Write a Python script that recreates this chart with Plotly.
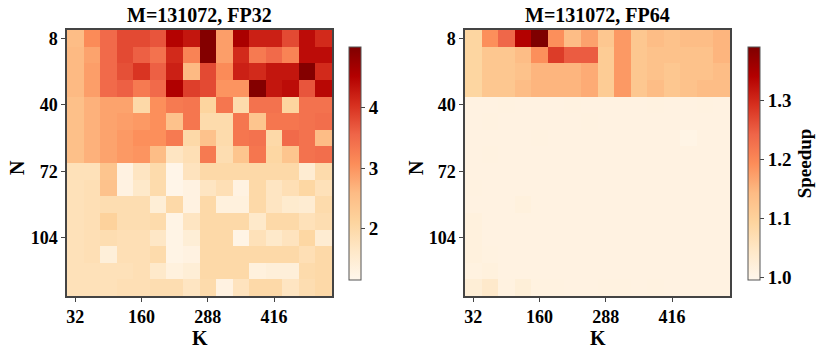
import plotly.graph_objects as go

# K (columns) and N (rows)
k_vals = [32, 64, 96, 128, 160, 192, 224, 256, 288, 320, 352, 384, 416, 448, 480, 512]
n_vals = [8, 16, 24, 32, 40, 48, 56, 64, 72, 80, 88, 96, 104, 112, 120, 128]

# speedup, M=131072, FP32
fp32_speedup = [
    [2.55, 3.10, 3.50, 3.80, 3.80, 3.70, 4.50, 4.30, 4.95, 2.90, 4.60, 4.20, 4.20, 3.80, 4.40, 4.10],
    [2.60, 2.85, 3.50, 3.80, 3.60, 3.40, 4.10, 3.20, 4.95, 2.90, 4.10, 3.30, 3.50, 3.20, 4.40, 4.40],
    [2.60, 2.90, 3.50, 3.75, 4.00, 3.60, 4.20, 2.60, 3.80, 3.10, 4.20, 4.10, 4.30, 4.30, 4.95, 4.10],
    [2.60, 2.90, 3.50, 3.60, 3.30, 3.50, 4.55, 3.90, 3.80, 3.00, 3.00, 4.95, 4.30, 4.40, 3.70, 4.45],
    [2.50, 2.70, 2.85, 2.85, 2.00, 3.05, 3.30, 3.35, 2.10, 3.35, 1.95, 3.40, 3.40, 2.10, 3.40, 3.40],
    [2.50, 2.70, 2.85, 2.90, 2.95, 3.05, 2.45, 3.35, 1.95, 1.95, 3.35, 2.40, 3.35, 3.35, 3.40, 3.45],
    [2.50, 2.70, 2.85, 2.95, 3.05, 3.05, 3.30, 2.00, 2.45, 1.95, 3.35, 3.40, 2.00, 3.50, 3.40, 2.55],
    [2.50, 2.70, 2.85, 2.95, 3.00, 2.55, 1.70, 1.85, 3.30, 1.90, 2.40, 3.35, 2.05, 2.40, 3.40, 3.45],
    [1.80, 1.80, 2.40, 1.30, 1.70, 1.95, 1.20, 1.75, 2.00, 2.00, 2.00, 2.00, 2.00, 2.00, 1.50, 1.95],
    [1.80, 1.85, 2.45, 1.30, 1.60, 1.95, 1.20, 1.30, 1.70, 1.85, 1.30, 2.00, 1.70, 1.85, 2.05, 1.80],
    [1.80, 1.85, 1.90, 1.90, 1.90, 1.45, 2.00, 1.30, 2.00, 1.35, 1.35, 2.00, 1.70, 1.55, 1.50, 1.95],
    [1.80, 1.85, 2.15, 1.90, 1.90, 1.95, 1.25, 1.70, 2.00, 2.00, 2.00, 1.60, 2.00, 2.00, 1.80, 1.90],
    [1.80, 1.85, 1.90, 1.85, 1.85, 1.65, 1.25, 1.45, 2.00, 2.00, 1.25, 1.80, 1.60, 1.75, 2.05, 1.50],
    [1.80, 1.85, 1.40, 1.85, 1.85, 1.95, 1.25, 1.30, 2.00, 2.00, 2.00, 2.00, 2.00, 2.00, 1.85, 2.00],
    [1.80, 1.80, 1.80, 1.80, 1.85, 1.60, 1.35, 1.45, 2.00, 2.00, 2.00, 1.35, 1.40, 1.40, 1.95, 2.00],
    [1.80, 1.80, 1.80, 1.85, 1.85, 1.90, 1.90, 1.70, 1.95, 1.30, 1.75, 2.00, 2.00, 1.70, 1.90, 2.00],
]

# speedup, M=131072, FP64
fp64_speedup = [
    [1.09, 1.19, 1.24, 1.34, 1.39, 1.19, 1.14, 1.17, 1.12, 1.18, 1.12, 1.14, 1.13, 1.14, 1.14, 1.15],
    [1.09, 1.12, 1.12, 1.14, 1.19, 1.28, 1.25, 1.25, 1.11, 1.18, 1.12, 1.13, 1.13, 1.13, 1.13, 1.15],
    [1.09, 1.12, 1.12, 1.13, 1.15, 1.15, 1.15, 1.16, 1.11, 1.18, 1.12, 1.13, 1.12, 1.13, 1.13, 1.14],
    [1.09, 1.12, 1.12, 1.14, 1.15, 1.15, 1.15, 1.16, 1.11, 1.18, 1.12, 1.14, 1.12, 1.13, 1.14, 1.14],
    [1.010, 1.010, 1.012, 1.010, 1.010, 1.010, 1.012, 1.010, 1.010, 1.010, 1.010, 1.012, 1.010, 1.010, 1.012, 1.010],
    [1.010, 1.012, 1.010, 1.010, 1.010, 1.010, 1.010, 1.012, 1.010, 1.010, 1.010, 1.010, 1.010, 1.010, 1.010, 1.010],
    [1.010, 1.010, 1.010, 1.010, 1.012, 1.010, 1.010, 1.010, 1.010, 1.010, 1.010, 1.010, 1.010, 1.005, 1.010, 1.010],
    [1.010, 1.012, 1.010, 1.010, 1.010, 1.010, 1.010, 1.010, 1.010, 1.010, 1.010, 1.010, 1.010, 1.010, 1.010, 1.010],
    [1.010, 1.010, 1.010, 1.010, 1.010, 1.010, 1.010, 1.010, 1.010, 1.010, 1.010, 1.010, 1.010, 1.010, 1.010, 1.010],
    [1.012, 1.010, 1.010, 1.010, 1.010, 1.010, 1.010, 1.010, 1.010, 1.010, 1.010, 1.010, 1.010, 1.010, 1.010, 1.010],
    [1.010, 1.010, 1.010, 1.015, 1.010, 1.010, 1.010, 1.010, 1.010, 1.010, 1.010, 1.010, 1.010, 1.010, 1.010, 1.010],
    [1.015, 1.010, 1.010, 1.010, 1.010, 1.010, 1.010, 1.010, 1.010, 1.010, 1.010, 1.010, 1.010, 1.010, 1.010, 1.010],
    [1.015, 1.010, 1.010, 1.010, 1.010, 1.010, 1.010, 1.010, 1.010, 1.010, 1.010, 1.010, 1.010, 1.010, 1.010, 1.010],
    [1.015, 1.012, 1.010, 1.010, 1.010, 1.010, 1.010, 1.010, 1.010, 1.010, 1.010, 1.010, 1.010, 1.010, 1.010, 1.010],
    [1.012, 1.015, 1.010, 1.010, 1.010, 1.010, 1.010, 1.010, 1.010, 1.010, 1.010, 1.010, 1.010, 1.010, 1.010, 1.010],
    [1.025, 1.040, 1.012, 1.022, 1.012, 1.012, 1.010, 1.010, 1.012, 1.012, 1.010, 1.012, 1.010, 1.010, 1.010, 1.010],
]

k_ticks = [32, 160, 288, 416]
n_ticks = [8, 40, 72, 104]

W, H = 831, 359
FONT = "Liberation Serif"


def px_x(p):
    return p / W


def px_y(p):
    return 1 - p / H


fig = go.Figure()

fig.add_trace(go.Heatmap(
    z=fp32_speedup, x=k_vals, y=n_vals, xaxis="x", yaxis="y",
    colorscale="OrRd", zmin=1.15, zmax=5.0,
    colorbar=dict(
        x=px_x(349), xanchor="left", xpad=0, ypad=0, thickness=12,
        len=233 / H, y=px_y(163.5), yanchor="middle",
        tickvals=[2, 3, 4], ticks="outside", ticklen=4,
        outlinecolor="#555", outlinewidth=1,
        tickfont=dict(family=FONT, size=19, color="black", weight="bold"),
    ),
))

fig.add_trace(go.Heatmap(
    z=fp64_speedup, x=k_vals, y=n_vals, xaxis="x2", yaxis="y2",
    colorscale="OrRd", zmin=0.995, zmax=1.39,
    colorbar=dict(
        x=px_x(748), xanchor="left", xpad=0, ypad=0, thickness=12,
        len=233 / H, y=px_y(163.5), yanchor="middle",
        tickvals=[1.0, 1.1, 1.2, 1.3], tickformat=".1f", ticks="outside", ticklen=4,
        outlinecolor="#555", outlinewidth=1,
        tickfont=dict(family=FONT, size=19, color="black", weight="bold"),
        title=dict(text="Speedup", side="right",
                   font=dict(family=FONT, size=19, color="black", weight="bold")),
    ),
))

xa = dict(tickvals=k_ticks, ticks="outside", ticklen=4, showline=True, mirror=True,
          linecolor="#444", linewidth=1.5, showgrid=False, zeroline=False, automargin=False,
          tickfont=dict(family=FONT, size=18, color="black", weight="bold"))
ya = dict(tickvals=n_ticks, ticks="outside", ticklen=4, showline=True, mirror=True,
          linecolor="#444", linewidth=1.5, showgrid=False, zeroline=False, automargin=False,
          autorange="reversed",
          tickfont=dict(family=FONT, size=18, color="black", weight="bold"))

fig.update_layout(
    width=W, height=H,
    margin=dict(l=0, r=0, t=0, b=0),
    paper_bgcolor="white", plot_bgcolor="white",
    font=dict(family=FONT, color="black"),
    xaxis=dict(xa, domain=[px_x(67), px_x(332)], anchor="y"),
    yaxis=dict(ya, domain=[px_y(296), px_y(30)], anchor="x"),
    xaxis2=dict(xa, domain=[px_x(465), px_x(730)], anchor="y2"),
    yaxis2=dict(ya, domain=[px_y(296), px_y(30)], anchor="x2"),
)

# titles and axis labels
bold = dict(family=FONT, size=20, color="black", weight="bold")
for cx, title in [(199.5, "M=131072, FP32"), (597.5, "M=131072, FP64")]:
    fig.add_annotation(text=title, x=px_x(cx), y=px_y(15), xref="paper", yref="paper",
                       xanchor="center", yanchor="middle", showarrow=False, font=bold)
    fig.add_annotation(text="K", x=px_x(cx), y=px_y(338), xref="paper", yref="paper",
                       xanchor="center", yanchor="middle", showarrow=False, font=bold)
for cx in [17, 416]:
    fig.add_annotation(text="N", x=px_x(cx), y=px_y(168), xref="paper", yref="paper",
                       xanchor="center", yanchor="middle", showarrow=False, textangle=-90,
                       font=bold)

# drop the browser's default 8px body margin so the figure sits at the top-left
fig.write_html("out.html", config={"displayModeBar": False},
               post_script="document.body.style.margin='0';")
